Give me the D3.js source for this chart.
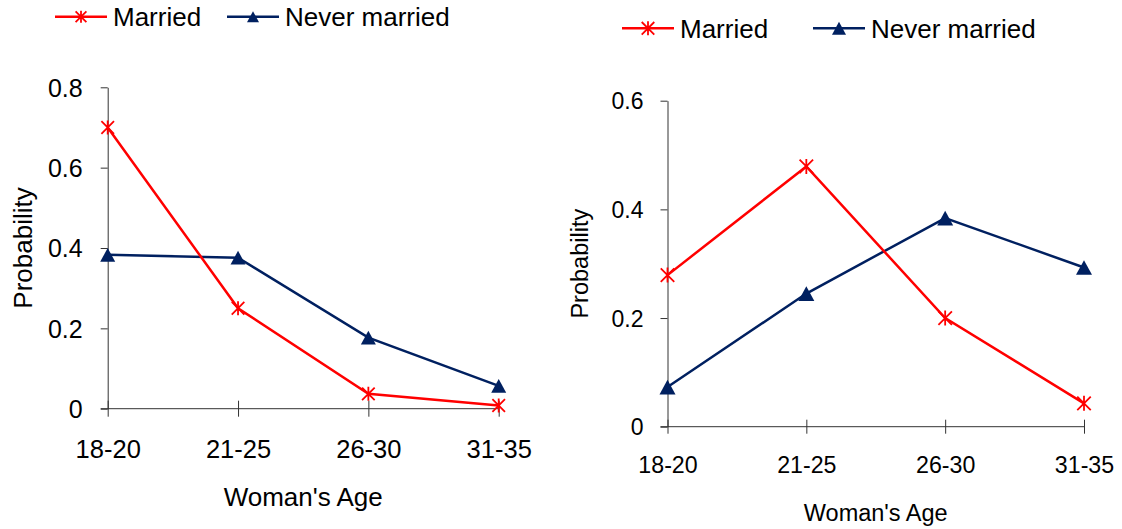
<!DOCTYPE html>
<html>
<head>
<meta charset="utf-8">
<script src="https://cdn.jsdelivr.net/npm/d3@7"></script>
<style>
  html, body { margin: 0; padding: 0; background: #fff; }
  svg { display: block; font-family: "Liberation Sans", Arial, sans-serif; }
</style>
</head>
<body>
<svg id="chart" width="1122" height="529"></svg>
<script>
// Age groups shared by both panels
const ageGroups = ["18-20", "21-25", "26-30", "31-35"];

// Left panel: probabilities by age group
const marriedLeft = [0.70, 0.25, 0.037, 0.008];
const neverMarriedLeft = [0.383, 0.376, 0.177, 0.057];
const leftTicks = [0, 0.2, 0.4, 0.6, 0.8];

// Right panel: probabilities by age group
const marriedRight = [0.279, 0.479, 0.20, 0.043];
const neverMarriedRight = [0.073, 0.245, 0.384, 0.293];
const rightTicks = [0, 0.2, 0.4, 0.6];

const seriesNames = ["Married", "Never married"];

const RED = "#ff0000";
const NAVY = "#002060";
const AXIS = "#333333";

const svg = d3.select("#chart");

// Asterisk marker: an X crossed by a vertical stroke
function starPath(r) {
  const d = r * 0.9;
  return `M${-d},${-d}L${d},${d}M${-d},${d}L${d},${-d}M0,${-r}L0,${r}`;
}
function triPath(w) {
  const h = w * 0.92;
  return `M0,${-h / 2}L${w / 2},${h / 2}L${-w / 2},${h / 2}Z`;
}

function drawLegend(g, cfg) {
  const items = [
    { name: seriesNames[0], color: RED, kind: "star", x: cfg.x0 },
    { name: seriesNames[1], color: NAVY, kind: "tri", x: cfg.x1 }
  ];
  items.forEach(it => {
    const lg = g.append("g").attr("transform", `translate(${it.x},${cfg.y})`);
    lg.append("line").attr("x1", 0).attr("x2", 52).attr("y1", 0).attr("y2", 0)
      .attr("stroke", it.color).attr("stroke-width", 2.5);
    if (it.kind === "star") {
      lg.append("path").attr("d", starPath(cfg.mk / 2)).attr("transform", "translate(26,0)")
        .attr("stroke", it.color).attr("stroke-width", 1.8).attr("fill", "none");
    } else {
      lg.append("path").attr("d", triPath(cfg.mk)).attr("transform", "translate(26,0)")
        .attr("fill", it.color);
    }
    lg.append("text").attr("x", 58).attr("y", 9.5)
      .attr("font-size", 26).attr("fill", "#000").text(it.name);
  });
}

function drawPanel(cfg) {
  const g = svg.append("g");

  const x = d3.scalePoint().domain(ageGroups).range([cfg.left, cfg.right]);
  const y = d3.scaleLinear().domain([0, cfg.yMax]).range([cfg.bottom, cfg.top]);

  // Y axis
  const yAxis = d3.axisLeft(y)
    .tickValues(cfg.ticks)
    .tickSize(7)
    .tickSizeOuter(0)
    .tickPadding(cfg.yPad)
    .tickFormat(d => d === 0 ? "0" : d3.format(".1f")(d));
  const yg = g.append("g").attr("transform", `translate(${cfg.left},0)`).call(yAxis);
  yg.select(".domain").attr("stroke", AXIS);
  yg.selectAll(".tick line").attr("stroke", AXIS);
  yg.selectAll(".tick text").attr("font-size", cfg.yFont).attr("fill", "#000")
    .attr("font-family", "Liberation Sans, Arial, sans-serif").attr("dy", "0.35em");

  // X axis: ticks cross the baseline, labels below
  const xAxis = d3.axisBottom(x).tickSize(0).tickSizeOuter(0).tickPadding(0);
  const xg = g.append("g").attr("transform", `translate(0,${y(0)})`).call(xAxis);
  xg.select(".domain").remove();
  xg.append("line").attr("x1", cfg.left - 7).attr("x2", cfg.right)
    .attr("y1", 0).attr("y2", 0).attr("stroke", AXIS).attr("stroke-width", 1);
  xg.selectAll(".tick line").attr("y1", -cfg.xTick).attr("y2", cfg.xTick)
    .attr("stroke", AXIS);
  xg.selectAll(".tick text").attr("font-size", cfg.xFont).attr("fill", "#000")
    .attr("font-family", "Liberation Sans, Arial, sans-serif")
    .attr("y", cfg.xLabelBase - y(0)).attr("dy", 0);

  // Axis titles
  g.append("text")
    .attr("x", (cfg.left + cfg.right) / 2).attr("y", cfg.xTitleBase)
    .attr("text-anchor", "middle").attr("font-size", cfg.titleFont).attr("fill", "#000")
    .text("Woman's Age");
  g.append("text")
    .attr("transform", `translate(${cfg.yTitleX},${(cfg.top + cfg.bottom) / 2}) rotate(-90)`)
    .attr("text-anchor", "middle").attr("font-size", cfg.titleFont).attr("fill", "#000")
    .text("Probability");

  const line = d3.line().x((d, i) => x(ageGroups[i])).y(d => y(d));

  // Never married series (navy, triangles)
  g.append("path").datum(cfg.never).attr("d", line)
    .attr("fill", "none").attr("stroke", NAVY).attr("stroke-width", 2.5)
    .attr("stroke-linejoin", "miter");
  g.selectAll(".tri").data(cfg.never).enter().append("path")
    .attr("d", triPath(cfg.triSize))
    .attr("transform", (d, i) => `translate(${x(ageGroups[i])},${y(d)})`)
    .attr("fill", NAVY);

  // Married series (red, asterisks)
  g.append("path").datum(cfg.married).attr("d", line)
    .attr("fill", "none").attr("stroke", RED).attr("stroke-width", 2.5)
    .attr("stroke-linejoin", "miter");
  g.selectAll(".star").data(cfg.married).enter().append("path")
    .attr("d", starPath(cfg.starSize / 2))
    .attr("transform", (d, i) => `translate(${x(ageGroups[i])},${y(d)})`)
    .attr("stroke", RED).attr("stroke-width", 1.8).attr("fill", "none");

  drawLegend(g, cfg.legend);
}

drawPanel({
  left: 107.7, right: 498.7, top: 87.3, bottom: 408.7,
  yMax: 0.8, ticks: leftTicks,
  married: marriedLeft, never: neverMarriedLeft,
  yPad: 18, yFont: 25, xFont: 25.5, xTick: 8, xLabelBase: 458.3,
  titleFont: 26, xTitleBase: 505.7, yTitleX: 32,
  triSize: 15, starSize: 14,
  legend: { x0: 55, x1: 227, y: 16.7, mk: 12 }
});

drawPanel({
  left: 667.5, right: 1084, top: 100.7, bottom: 426.7,
  yMax: 0.6, ticks: rightTicks,
  married: marriedRight, never: neverMarriedRight,
  yPad: 17, yFont: 23, xFont: 23.2, xTick: 7, xLabelBase: 473.3,
  titleFont: 23.5, xTitleBase: 520.7, yTitleX: 588,
  triSize: 16, starSize: 15,
  legend: { x0: 622, x1: 813, y: 28.3, mk: 14 }
});
</script>
</body>
</html>
